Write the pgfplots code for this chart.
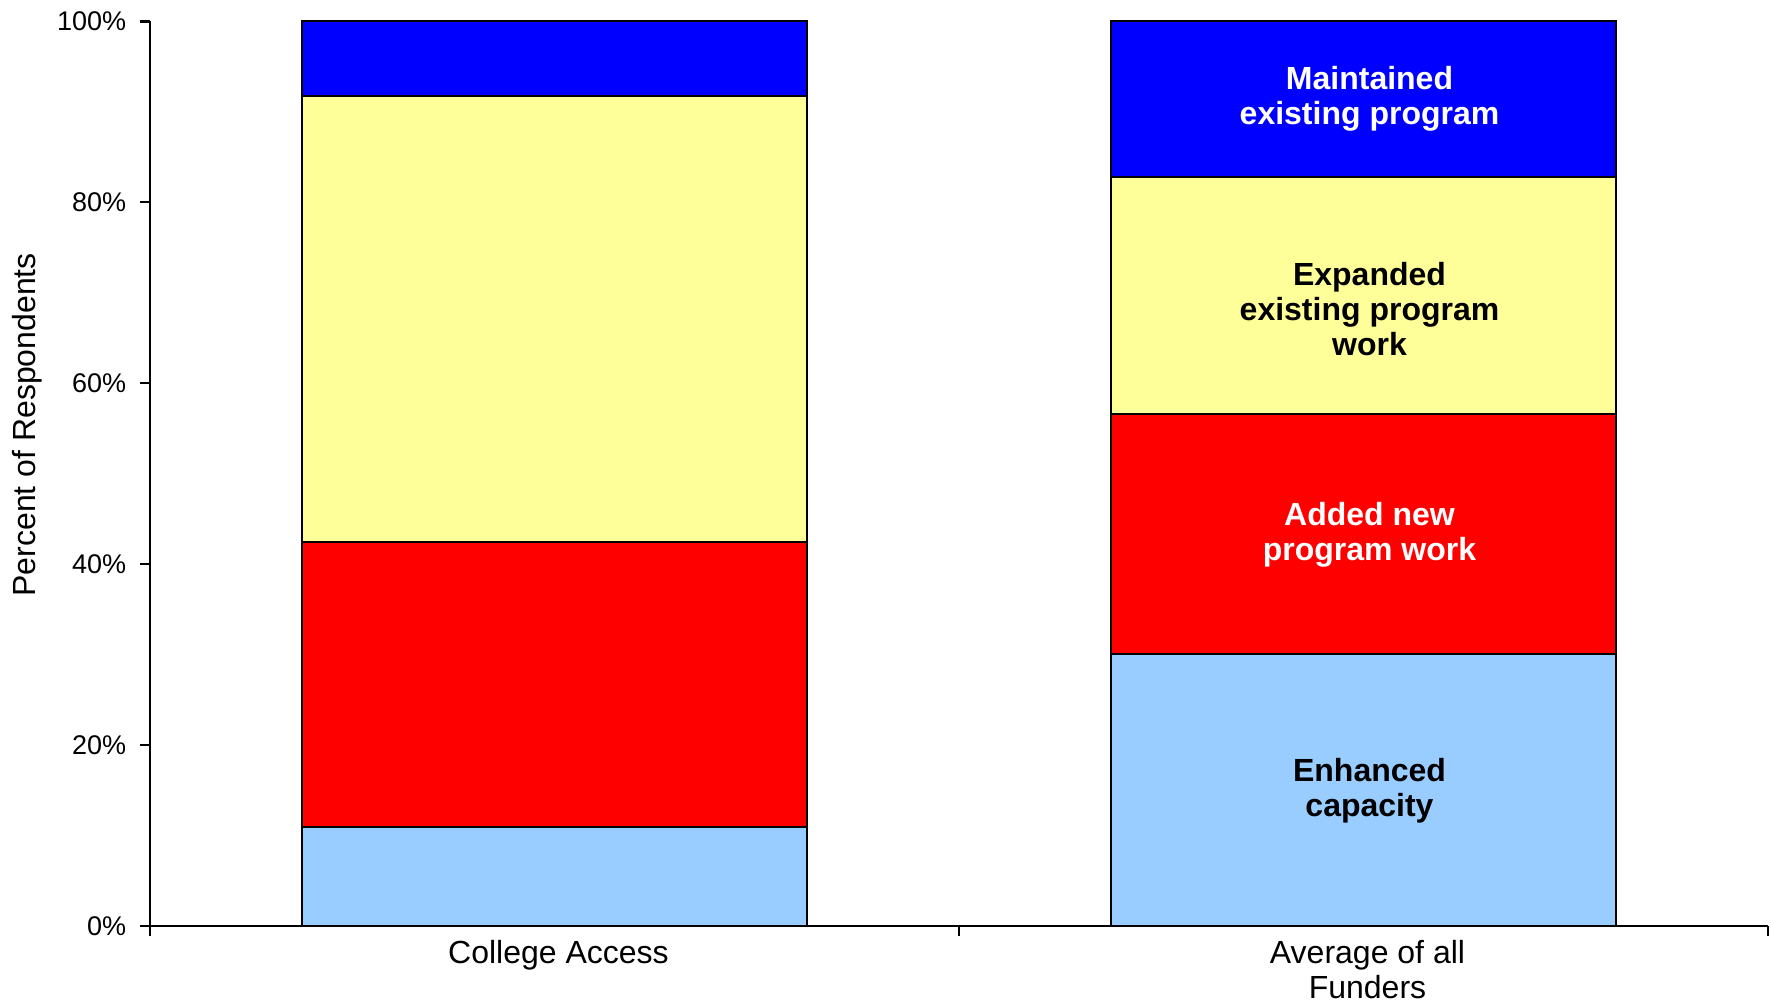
\documentclass[border=0pt]{standalone}
\usepackage{pgfplots}
\pgfplotsset{compat=1.18}
\usepackage{fontspec}
\setmainfont{Liberation Sans}
\definecolor{cLB}{HTML}{99CCFF}
\definecolor{cR}{HTML}{FF0000}
\definecolor{cY}{HTML}{FFFF99}
\definecolor{cB}{HTML}{0000FF}
\begin{document}
\begin{tikzpicture}
\useasboundingbox (-75pt,-38pt) rectangle (810.5pt,463pt);
\begin{axis}[
 at={(0,0)}, anchor=south west,
 scale only axis, width=809pt, height=452.25pt,
 ybar stacked, bar width=0.625,
 xmin=-0.5, xmax=1.5, ymin=0, ymax=100,
 axis lines*=left, axis line style={line width=1.1pt, black},
 xtick={0,1}, xticklabels={College Access, {Average of all\\[0.3pt]Funders}},
 xticklabel style={align=center, font=\fontsize{16}{17.5}\selectfont, inner sep=0pt, yshift=-1.8pt, xshift=2pt},
 xtick style={draw=none},
 extra x ticks={-0.5,0.5,1.5}, extra x tick labels={},
 extra x tick style={xtick style={draw=black, line width=1.1pt}},
 ytick={0,20,40,60,80,100}, yticklabels={0\%,20\%,40\%,60\%,80\%,100\%},
 yticklabel style={font=\fontsize{13.5}{16}\selectfont, xshift=-3.4pt},
 tick align=outside, major tick length=5pt,
 ytick style={line width=1.1pt, black},
 ylabel={Percent of Respondents},
 ylabel style={font=\fontsize{16}{19}\selectfont, at={([xshift=-61.5pt]axis description cs:0,0.554)}, anchor=center},
 clip=false,
]
\addplot[fill=cLB, draw=black, line width=1pt] coordinates {(0,11.0) (1,30.1)};
\addplot[fill=cR, draw=black, line width=1pt] coordinates {(0,31.4) (1,26.5)};
\addplot[fill=cY, draw=black, line width=1pt] coordinates {(0,49.4) (1,26.2)};
\addplot[fill=cB, draw=black, line width=1pt] coordinates {(0,8.2) (1,17.2)};
\coordinate (lm) at (axis cs:1,91.4);
\coordinate (le) at (axis cs:1,68.2);
\coordinate (la) at (axis cs:1,43.2);
\coordinate (lc) at (axis cs:1,15.0);
\end{axis}
\begin{scope}[every node/.style={font=\bfseries\fontsize{16}{17.5}\selectfont, align=center, xshift=3pt}]
\node[text=white] at (lm) {Maintained\\existing program};
\node[text=black] at (le) {Expanded\\existing program\\work};
\node[text=white] at (la) {Added new\\program work};
\node[text=black] at (lc) {Enhanced\\capacity};
\end{scope}
\end{tikzpicture}
\end{document}
